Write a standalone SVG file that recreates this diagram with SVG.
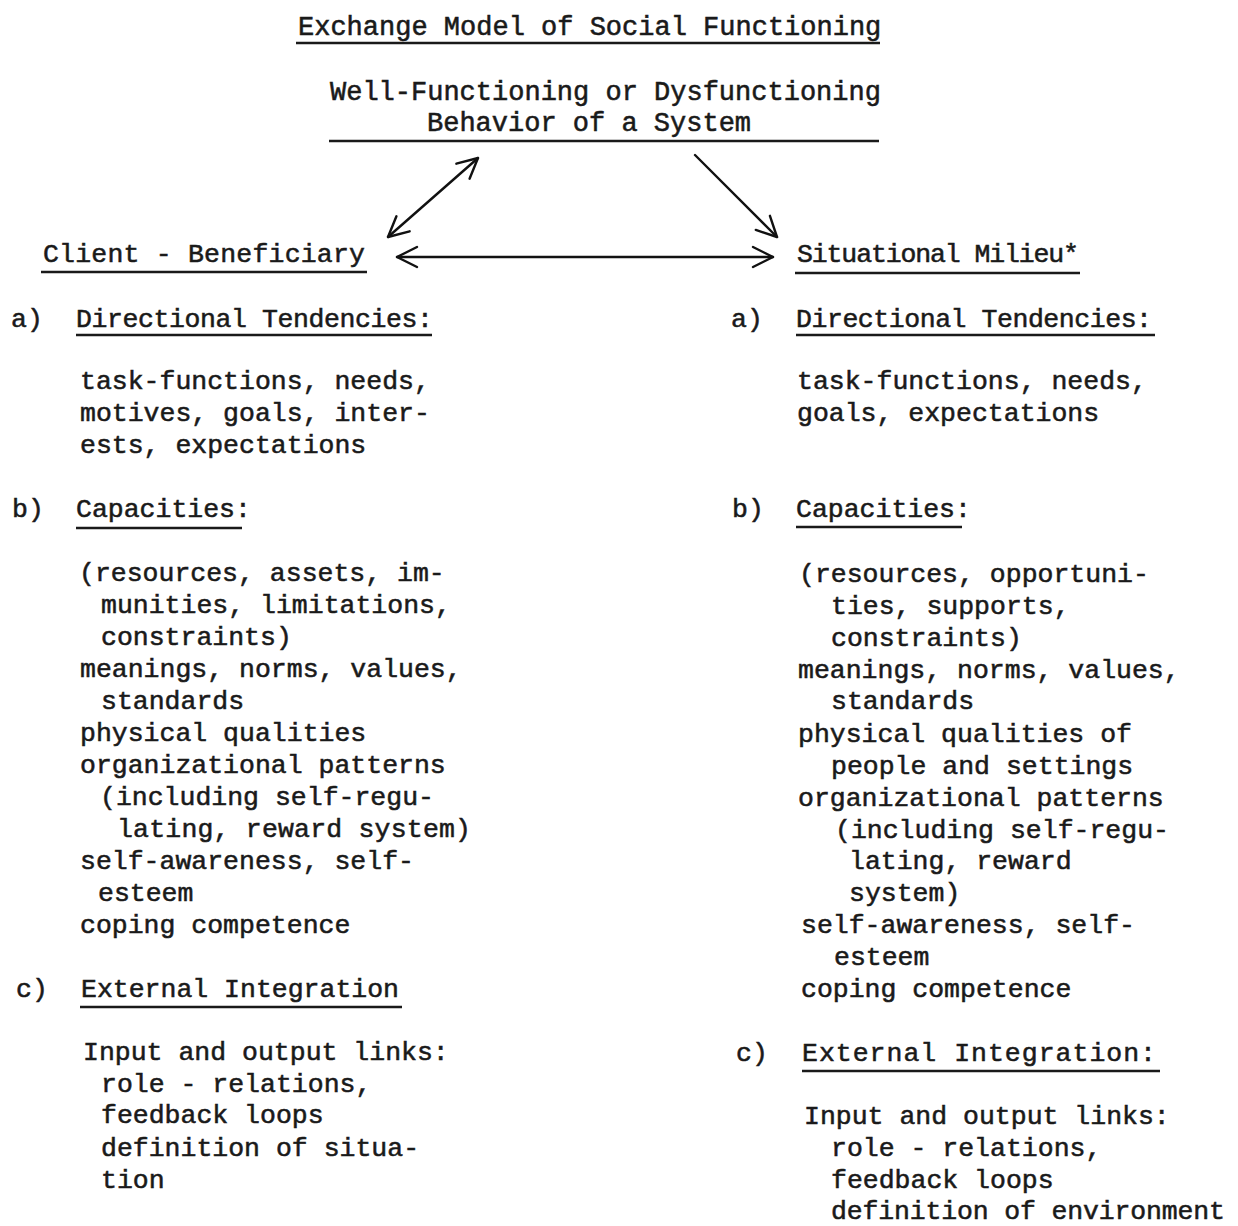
<svg xmlns="http://www.w3.org/2000/svg" width="1238" height="1226" viewBox="0 0 1238 1226">
<defs>
<style>
text{font-family:"Liberation Mono","Courier New",monospace;font-size:26.5px;fill:#1a1a1a;stroke:#1a1a1a;stroke-width:0.55px}
.t{font-size:27px}
.u{stroke:#1a1a1a;stroke-width:2.4;fill:none}
.c{stroke:#111;stroke-width:2.4;fill:none;stroke-linecap:round}
</style>
<marker id="ah" viewBox="0 0 24 24" refX="22" refY="12" markerWidth="24" markerHeight="24" markerUnits="userSpaceOnUse" orient="auto-start-reverse">
<path d="M2,2 L22,12 L2,22" fill="none" stroke="#111" stroke-width="2.4" stroke-linecap="round" stroke-linejoin="round"/>
</marker>
</defs>
<rect width="1238" height="1226" fill="#fff"/>

<g id="title">
<text class="t" x="298" y="35">Exchange Model of Social Functioning</text>
<line class="u" x1="296" y1="43" x2="880" y2="43"/>
</g>

<g id="system">
<text class="t" x="330" y="100">Well-Functioning or Dysfunctioning</text>
<text class="t" x="427" y="131">Behavior of a System</text>
<line class="u" x1="329" y1="141" x2="879" y2="141"/>
</g>

<g id="client">
<text x="43" y="262" textLength="322">Client - Beneficiary</text>
<line class="u" x1="41" y1="272" x2="367" y2="272"/>
</g>

<g id="milieu">
<text x="797" y="262" textLength="282">Situational Milieu*</text>
<line class="u" x1="795" y1="273" x2="1080" y2="273"/>
</g>

<g id="connectors">
<line class="c" x1="388" y1="237" x2="478" y2="158" marker-start="url(#ah)" marker-end="url(#ah)"/>
<line class="c" x1="695" y1="155" x2="777" y2="237" marker-end="url(#ah)"/>
<line class="c" x1="397" y1="257" x2="773" y2="257" marker-start="url(#ah)" marker-end="url(#ah)"/>
</g>

<g id="client-a">
<text x="11" y="327">a)</text>
<text x="76" y="327" textLength="357">Directional Tendencies:</text>
<line class="u" x1="76" y1="335" x2="432" y2="335"/>
<text x="80" y="389">task-functions, needs,</text>
<text x="80" y="421">motives, goals, inter-</text>
<text x="80" y="453">ests, expectations</text>
</g>

<g id="client-b">
<text x="12" y="517">b)</text>
<text x="76" y="517">Capacities:</text>
<line class="u" x1="76" y1="528" x2="242" y2="528"/>
<text x="79" y="581">(resources, assets, im-</text>
<text x="101" y="613">munities, limitations,</text>
<text x="101" y="645">constraints)</text>
<text x="80" y="677">meanings, norms, values,</text>
<text x="101" y="709">standards</text>
<text x="80" y="741">physical qualities</text>
<text x="80" y="773">organizational patterns</text>
<text x="100" y="805">(including self-regu-</text>
<text x="117" y="837" textLength="354">lating, reward system)</text>
<text x="80" y="869">self-awareness, self-</text>
<text x="98" y="901">esteem</text>
<text x="80" y="933">coping competence</text>
</g>

<g id="client-c">
<text x="16" y="997">c)</text>
<text x="81" y="997" textLength="318">External Integration</text>
<line class="u" x1="80" y1="1007" x2="402" y2="1007"/>
<text x="83" y="1060">Input and output links:</text>
<text x="101" y="1092">role - relations,</text>
<text x="101" y="1123">feedback loops</text>
<text x="101" y="1156">definition of situa-</text>
<text x="101" y="1188">tion</text>
</g>

<g id="milieu-a">
<text x="731" y="327">a)</text>
<text x="796" y="327" textLength="356">Directional Tendencies:</text>
<line class="u" x1="796" y1="335" x2="1155" y2="335"/>
<text x="797" y="389">task-functions, needs,</text>
<text x="797" y="421">goals, expectations</text>
</g>

<g id="milieu-b">
<text x="732" y="517">b)</text>
<text x="796" y="517">Capacities:</text>
<line class="u" x1="796" y1="527" x2="962" y2="527"/>
<text x="799" y="582">(resources, opportuni-</text>
<text x="831" y="614">ties, supports,</text>
<text x="831" y="646">constraints)</text>
<text x="798" y="678">meanings, norms, values,</text>
<text x="831" y="709">standards</text>
<text x="798" y="742">physical qualities of</text>
<text x="831" y="774">people and settings</text>
<text x="798" y="806">organizational patterns</text>
<text x="835" y="838">(including self-regu-</text>
<text x="849" y="869">lating, reward</text>
<text x="849" y="901">system)</text>
<text x="801" y="933">self-awareness, self-</text>
<text x="834" y="965">esteem</text>
<text x="801" y="997">coping competence</text>
</g>

<g id="milieu-c">
<text x="736" y="1061">c)</text>
<text x="802" y="1061" textLength="354">External Integration:</text>
<line class="u" x1="802" y1="1071" x2="1160" y2="1071"/>
<text x="804" y="1124">Input and output links:</text>
<text x="831" y="1156">role - relations,</text>
<text x="831" y="1188">feedback loops</text>
<text x="831" y="1219" textLength="394">definition of environment</text>
</g>
</svg>
